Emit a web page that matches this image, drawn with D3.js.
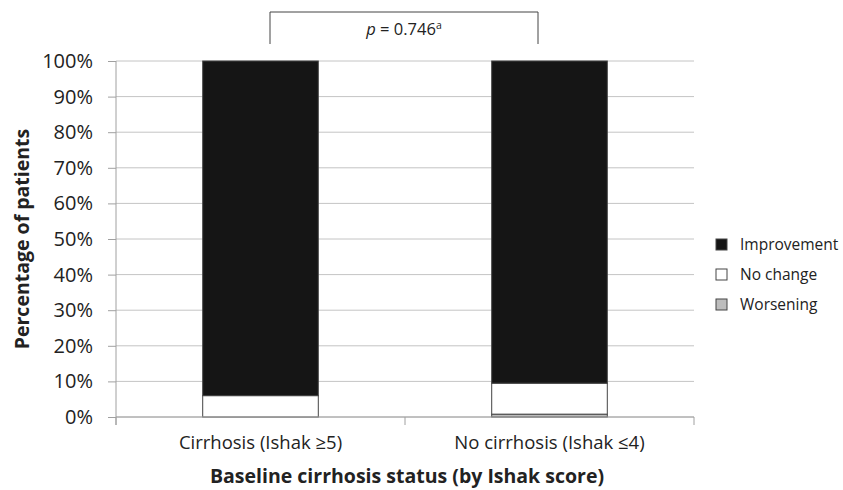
<!DOCTYPE html>
<html>
<head>
<meta charset="utf-8">
<script src="https://cdn.jsdelivr.net/npm/d3@7"></script>
<style>
  body { margin: 0; background: #fff; }
  text { font-family: "Open Sans", "Noto Sans", sans-serif; fill: #222; }
</style>
</head>
<body>
<svg id="chart" width="843" height="490"></svg>
<script>
const categories = ['Cirrhosis (Ishak \u22655)', 'No cirrhosis (Ishak \u22644)']
const worsening = [0, 0.8]
const noChange = [6, 8.7]
const improvement = [94, 90.5]
const yTicks = [0, 10, 20, 30, 40, 50, 60, 70, 80, 90, 100]
const seriesNames = ['Improvement', 'No change', 'Worsening']
const seriesColors = { 'Worsening': '#bdbdbd', 'No change': '#ffffff', 'Improvement': '#151515' }

const margin = { top: 61, left: 116, bottom: 73 }
const plotW = 578
const height = 490 - margin.top - margin.bottom

const svg = d3.select('#chart')
const g = svg.append('g').attr('transform', `translate(${margin.left},${margin.top})`)

const x = d3.scaleBand().domain(categories).range([0, plotW]).paddingInner(0.6).paddingOuter(0.3)
const xAxisBand = d3.scaleBand().domain(categories).range([0, plotW])
const y = d3.scaleLinear().domain([0, 100]).range([height, 0])

// gridlines
g.selectAll('.grid')
  .data(yTicks)
  .join('line')
  .attr('x1', 0).attr('x2', plotW)
  .attr('y1', d => y(d)).attr('y2', d => y(d))
  .attr('stroke', '#c4c4c4').attr('stroke-width', 1)

// stacked bars
const rows = categories.map((c, i) => ({ cat: c, 'Worsening': worsening[i], 'No change': noChange[i], 'Improvement': improvement[i] }))
const stack = d3.stack().keys(['Worsening', 'No change', 'Improvement'])(rows)

g.selectAll('.layer')
  .data(stack)
  .join('g')
  .attr('fill', d => seriesColors[d.key])
  .selectAll('rect')
  .data(d => d.filter(p => p[1] - p[0] > 0))
  .join('rect')
  .attr('x', d => x(d.data.cat))
  .attr('width', x.bandwidth())
  .attr('y', d => y(d[1]))
  .attr('height', d => y(d[0]) - y(d[1]))
  .attr('stroke', '#444')
  .attr('stroke-width', 1)

// y axis
const yAxis = g.append('g')
  .call(d3.axisLeft(y).tickValues(yTicks).tickFormat(d => d + '%').tickSize(8).tickPadding(15))
yAxis.select('.domain').attr('stroke', '#a0a0a0').attr('d', `M0,${height + 8}V0`)
yAxis.selectAll('.tick line').attr('stroke', '#a0a0a0')
yAxis.selectAll('text').style('font-size', '20px').attr('fill', '#222')

// x axis
const xAxis = g.append('g').attr('transform', `translate(0,${height})`)
xAxis.append('line').attr('x1', 0).attr('x2', plotW).attr('stroke', '#a0a0a0')
xAxis.selectAll('.xt')
  .data([0, plotW / 2, plotW])
  .join('line')
  .attr('x1', d => d).attr('x2', d => d)
  .attr('y1', 0).attr('y2', 8)
  .attr('stroke', '#a0a0a0')
xAxis.selectAll('.xl')
  .data(categories)
  .join('text')
  .attr('x', d => xAxisBand(d) + xAxisBand.bandwidth() / 2)
  .attr('y', 32)
  .attr('text-anchor', 'middle')
  .style('font-size', '18.5px')
  .text(d => d)

// axis titles
svg.append('text')
  .attr('x', margin.left + plotW / 2 + 2).attr('y', 483)
  .attr('text-anchor', 'middle')
  .style('font-size', '19.5px').style('font-weight', 'bold')
  .text('Baseline cirrhosis status (by Ishak score)')

svg.append('text')
  .attr('transform', `translate(29,${margin.top + height / 2}) rotate(-90)`)
  .attr('text-anchor', 'middle')
  .style('font-size', '19.5px').style('font-weight', 'bold')
  .text('Percentage of patients')

// p-value bracket
const bx1 = 270, bx2 = 538
svg.append('path')
  .attr('d', `M${bx1},44V12H${bx2}V44`)
  .attr('fill', 'none').attr('stroke', '#444').attr('stroke-width', 1)
const pt = svg.append('text')
  .attr('x', (bx1 + bx2) / 2).attr('y', 35)
  .attr('text-anchor', 'middle')
  .style('font-size', '16.5px')
pt.append('tspan').style('font-style', 'italic').text('p')
pt.append('tspan').text(' = 0.746')
pt.append('tspan').attr('dy', -6).style('font-size', '10.5px').text('a')

// legend
const legend = svg.append('g').attr('transform', 'translate(716,239)')
const li = legend.selectAll('g')
  .data(seriesNames)
  .join('g')
  .attr('transform', (d, i) => `translate(0,${i * 30})`)
li.append('rect')
  .attr('width', 11).attr('height', 11)
  .attr('fill', d => seriesColors[d])
  .attr('stroke', '#444')
li.append('text')
  .attr('x', 24).attr('y', 11)
  .style('font-size', '15.5px')
  .text(d => d)
</script>
</body>
</html>
